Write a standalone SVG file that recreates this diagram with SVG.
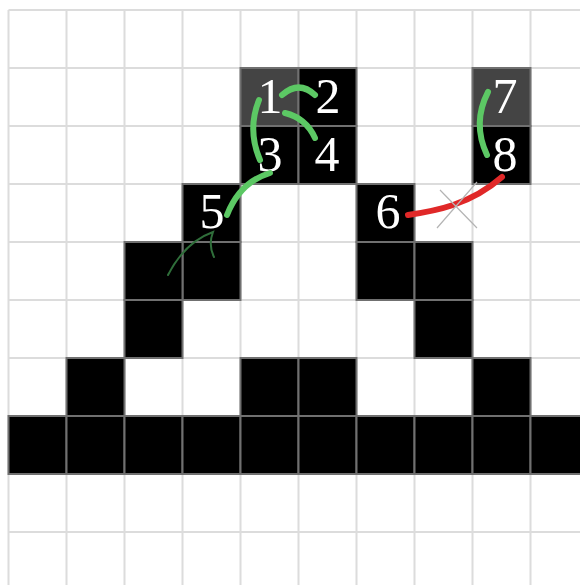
<svg xmlns="http://www.w3.org/2000/svg" width="580" height="585" viewBox="0 0 580 585">
<style>
.grid{stroke:#dcdcdc;stroke-width:2;fill:none}
.blk{fill:#000;stroke:#707070;stroke-width:2}
.dk{fill:#444;stroke:#707070;stroke-width:2}
.num{font-family:"Liberation Serif","Times New Roman",serif;font-size:50px;fill:#fff;text-anchor:middle}
.g{stroke:#5cc864;stroke-width:6;fill:none;stroke-linecap:round}
.r{stroke:#e02828;stroke-width:6;fill:none;stroke-linecap:round}
.thin{stroke:#2f6e3a;stroke-width:2;fill:none;stroke-linecap:round}
.x{stroke:#b4b4b4;stroke-width:1.2}
</style>
<rect width="580" height="585" fill="#fff"/>
<g id="grid" class="grid">
<path d="M8.5,10V585M66.5,10V585M124.5,10V585M182.5,10V585M240.5,10V585M298.5,10V585M356.5,10V585M414.5,10V585M472.5,10V585M530.5,10V585"/>
<path d="M8.5,10H580M8.5,68H580M8.5,126H580M8.5,184H580M8.5,242H580M8.5,300H580M8.5,358H580M8.5,416H580M8.5,474H580M8.5,532H580"/>
</g>
<g id="cells">
<rect class="blk" x="182.5" y="242" width="58" height="58"/>
<rect class="blk" x="124.5" y="242" width="58" height="58"/>
<rect class="blk" x="356.5" y="242" width="58" height="58"/>
<rect class="blk" x="414.5" y="242" width="58" height="58"/>
<rect class="blk" x="124.5" y="300" width="58" height="58"/>
<rect class="blk" x="414.5" y="300" width="58" height="58"/>
<rect class="blk" x="66.5" y="358" width="58" height="58"/>
<rect class="blk" x="240.5" y="358" width="58" height="58"/>
<rect class="blk" x="298.5" y="358" width="58" height="58"/>
<rect class="blk" x="472.5" y="358" width="58" height="58"/>
<rect class="blk" x="8.5" y="416" width="58" height="58"/>
<rect class="blk" x="66.5" y="416" width="58" height="58"/>
<rect class="blk" x="124.5" y="416" width="58" height="58"/>
<rect class="blk" x="182.5" y="416" width="58" height="58"/>
<rect class="blk" x="240.5" y="416" width="58" height="58"/>
<rect class="blk" x="298.5" y="416" width="58" height="58"/>
<rect class="blk" x="356.5" y="416" width="58" height="58"/>
<rect class="blk" x="414.5" y="416" width="58" height="58"/>
<rect class="blk" x="472.5" y="416" width="58" height="58"/>
<rect class="blk" x="530.5" y="416" width="58" height="58"/>
</g>
<g id="n1"><rect class="dk" x="240.5" y="68" width="58" height="58"/><text class="num" x="270" y="113">1</text></g>
<g id="n2"><rect class="blk" x="298.5" y="68" width="58" height="58"/><text class="num" x="328" y="113">2</text></g>
<g id="n3"><rect class="blk" x="240.5" y="126" width="58" height="58"/><text class="num" x="270" y="171">3</text></g>
<g id="n4"><rect class="blk" x="298.5" y="126" width="58" height="58"/><text class="num" x="327" y="171">4</text></g>
<g id="n5"><rect class="blk" x="182.5" y="184" width="58" height="58"/><text class="num" x="212" y="228">5</text></g>
<g id="n6"><rect class="blk" x="356.5" y="184" width="58" height="58"/><text class="num" x="388" y="228">6</text></g>
<g id="n7"><rect class="dk" x="472.5" y="68" width="58" height="58"/><text class="num" x="505" y="113">7</text></g>
<g id="n8"><rect class="blk" x="472.5" y="126" width="58" height="58"/><text class="num" x="505" y="171">8</text></g>
<g id="connectors">
<path class="g" d="M282,95 Q299,80 315,95"/>
<path class="g" d="M285,113 Q306,118 315,138"/>
<path class="g" d="M259,100 Q247,130 260,160"/>
<path class="g" d="M270,173 Q240,182 227,215"/>
<path class="g" d="M488,92 Q472,123 487,155"/>
<path class="thin" d="M168,275 Q185,242 213,232 Q208,245 214,257"/>
<path class="r" d="M408,215 C435,211 470,205 502,177"/>
<path class="x" d="M437,228 L477,182 M440,190 L477,228"/>
</g>
</svg>
